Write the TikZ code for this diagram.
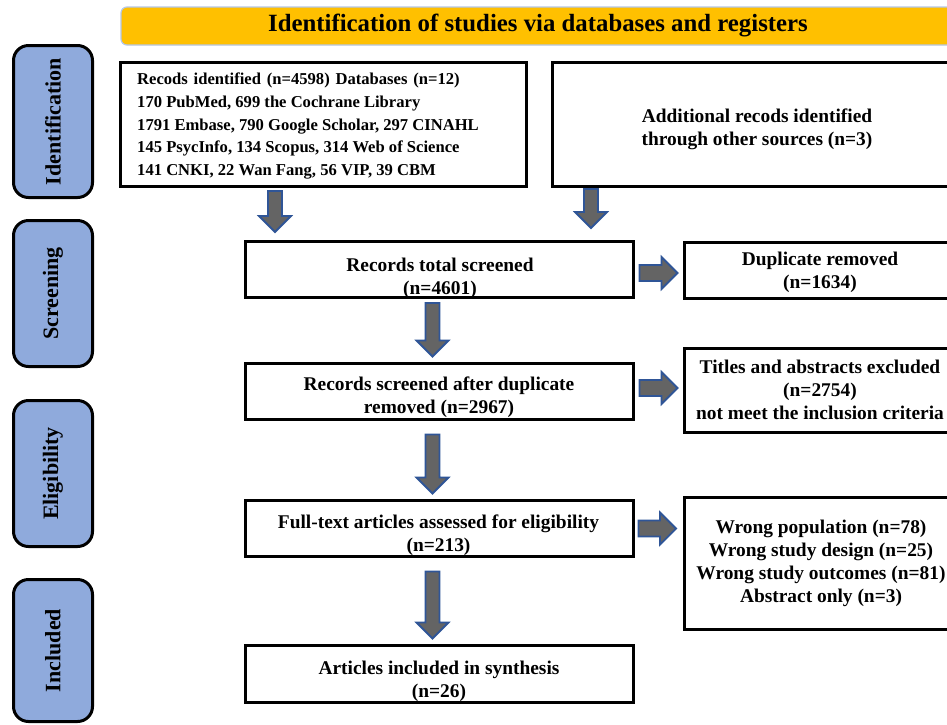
\documentclass[tikz,border=0pt]{standalone}
\usepackage{fontspec}
\setmainfont{Liberation Serif}
\usetikzlibrary{calc}
\definecolor{sidefill}{HTML}{8FAADC}
\definecolor{titlefill}{HTML}{FFC000}
\definecolor{titleedge}{HTML}{B4C7E7}
\definecolor{arrfill}{HTML}{646464}
\definecolor{arredge}{HTML}{2F5597}
\newcommand{\wsp}{\hspace*{5.8pt}}
\tikzset{
  box/.style={draw=black, line width=3.2pt, fill=white, inner sep=0pt, rectangle},
  sidebox/.style={draw=black, line width=3pt, fill=sidefill, rounded corners=15pt, inner sep=0pt, rotate=90,
    font=\bfseries\fontsize{22}{26}\selectfont},
  txt/.style={inner sep=0pt, align=center, font=\bfseries\fontsize{19.4}{23}\selectfont},
  smalltxt/.style={inner sep=0pt, align=left, anchor=west, font=\bfseries\fontsize{16.6}{22.8}\selectfont},
  blockarr/.style={draw=arredge, fill=arrfill, line width=1.8pt, line join=miter},
  downblock/.style={to path={let \p1=(\tikztostart), \p2=(\tikztotarget) in
    (\x1-7pt,\y1) -- (\x1+7pt,\y1) -- (\x1+7pt,\y2+16pt) -- (\x1+16pt,\y2+16pt) -- (\x1,\y2)
    -- (\x1-16pt,\y2+16pt) -- (\x1-7pt,\y2+16pt) -- cycle}},
  rightblock/.style={to path={let \p1=(\tikztostart), \p2=(\tikztotarget) in
    (\x1,\y1+8pt) -- (\x2-16pt,\y1+8pt) -- (\x2-16pt,\y1+16pt) -- (\x2,\y1) -- (\x2-16pt,\y1-16pt)
    -- (\x2-16pt,\y1-8pt) -- (\x1,\y1-8pt) -- cycle}}
}
\begin{document}
\begin{tikzpicture}[x=1pt,y=-1pt]
\useasboundingbox (0,0) rectangle (947,724);
\clip (0,0) rectangle (947,724);
\fill[white] (0,0) rectangle (947,724);

% title banner
\node[draw=titleedge, line width=1.2pt, fill=titlefill, rounded corners=6pt, minimum width=834pt, minimum height=38pt, inner sep=0pt,
  font=\bfseries\fontsize{24.8}{28}\selectfont] (title) at (538,26) {Identification of studies via databases and registers};

% side labels
\node[sidebox, minimum width=152pt, minimum height=79pt] (s1) at (53,121.5) {Identification};
\node[sidebox, minimum width=146pt, minimum height=79pt] (s2) at (53,293.5) {Screening};
\node[sidebox, minimum width=146pt, minimum height=79pt] (s3) at (53,473.5) {Eligibility};
\node[sidebox, minimum width=142pt, minimum height=79pt] (s4) at (53,650.5) {Included};

% boxes
\node[box, minimum width=405.8pt, minimum height=123.8pt] (b1) at (323.5,124.5) {};
\node[box, minimum width=408.8pt, minimum height=123.8pt] (b2) at (757,124.5) {};
\node[box, minimum width=387.8pt, minimum height=55.8pt] (b3) at (439.5,269.5) {};
\node[box, minimum width=273.8pt, minimum height=55.8pt] (b4) at (821.5,270.5) {};
\node[box, minimum width=387.8pt, minimum height=55.8pt] (b5) at (439.5,391.5) {};
\node[box, minimum width=273.8pt, minimum height=83.8pt] (b6) at (821.5,390.5) {};
\node[box, minimum width=387.8pt, minimum height=55.8pt] (b7) at (439.5,528.5) {};
\node[box, minimum width=273.8pt, minimum height=131.8pt] (b8) at (821.5,563.5) {};
\node[box, minimum width=387.8pt, minimum height=56.8pt] (b9) at (439.5,674) {};

% texts
\node[smalltxt] (t1) at (137,126) {Recods\wsp identified\wsp (n=4598)\wsp Databases\wsp (n=12)\\170 PubMed, 699 the Cochrane Library\\1791 Embase, 790 Google Scholar, 297 CINAHL\\145 PsycInfo, 134 Scopus, 314 Web of Science\\141 CNKI, 22 Wan Fang, 56 VIP, 39 CBM};
\node[txt] (t2) at (757,129.5) {Additional recods identified\\through other sources (n=3)};
\node[txt] (t3) at (440,278.5) {Records total screened\\(n=4601)};
\node[txt] (t4) at (820,272) {Duplicate removed\\(n=1634)};
\node[txt] (t5) at (439,397.5) {Records screened after duplicate\\removed (n=2967)};
\node[txt] (t6) at (820,390) {Titles and abstracts excluded\\(n=2754)\\not meet the inclusion criteria};
\node[txt] (t7) at (438.5,535) {Full-text articles assessed for eligibility\\(n=213)};
\node[txt] (t8) at (821,563) {Wrong population (n=78)\\Wrong study design (n=25)\\Wrong study outcomes (n=81)\\Abstract only (n=3)};
\node[txt] (t9) at (439,681.5) {Articles included in synthesis\\(n=26)};

% arrow end points
\coordinate (a1s) at ([xshift=-48.5pt,yshift=-3pt]b1.south);
\coordinate (a1e) at ([yshift=8pt]a1s |- b3.north);
\coordinate (a2s) at ([xshift=-166pt,yshift=-1pt]b2.south);
\coordinate (a2e) at ([yshift=12pt]a2s |- b3.north);
\coordinate (a3s) at ([xshift=4.5pt,yshift=-3.5pt]b3.east);
\coordinate (a3e) at ([xshift=-5.5pt]a3s -| b4.west);
\coordinate (a4s) at ([xshift=-7pt,yshift=-4pt]b3.south);
\coordinate (a4e) at ([yshift=5.5pt]a4s |- b5.north);
\coordinate (a5s) at ([xshift=4.5pt,yshift=3.5pt]b5.east);
\coordinate (a5e) at ([xshift=-5.5pt]a5s -| b6.west);
\coordinate (a6s) at ([xshift=-7pt,yshift=-13.5pt]b5.south);
\coordinate (a6e) at ([yshift=5.5pt]a6s |- b7.north);
\coordinate (a7s) at ([xshift=3.5pt,yshift=0pt]b7.east);
\coordinate (a7e) at ([xshift=-7pt]a7s -| b8.west);
\coordinate (a8s) at ([xshift=-7pt,yshift=-13.5pt]b7.south);
\coordinate (a8e) at ([yshift=5.5pt]a8s |- b9.north);

\draw[blockarr] (a1s) to[downblock] (a1e);
\draw[blockarr] (a2s) to[downblock] (a2e);
\draw[blockarr] (a3s) to[rightblock] (a3e);
\draw[blockarr] (a4s) to[downblock] (a4e);
\draw[blockarr] (a5s) to[rightblock] (a5e);
\draw[blockarr] (a6s) to[downblock] (a6e);
\draw[blockarr] (a7s) to[rightblock] (a7e);
\draw[blockarr] (a8s) to[downblock] (a8e);
\end{tikzpicture}
\end{document}
